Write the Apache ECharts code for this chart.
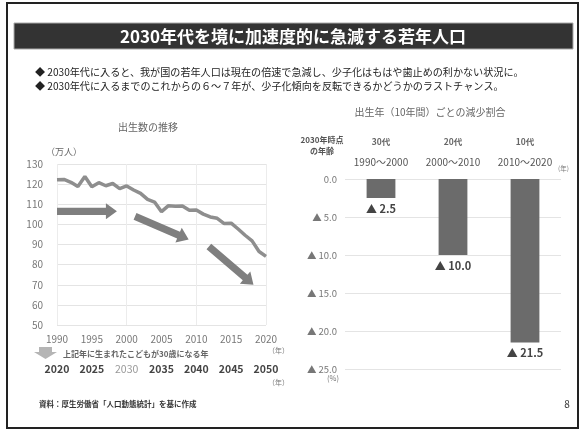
<!DOCTYPE html>
<html>
<head>
<meta charset="utf-8">
<script src="https://cdn.jsdelivr.net/npm/echarts@6/dist/echarts.min.js"></script>
<style>
  html, body { margin: 0; padding: 0; background: #fff; }
  #c { width: 585px; height: 431px; }
</style>
</head>
<body>
<div id="c"></div>
<script>
// 出生数（万人）
const birthYears = [1990, 1991, 1992, 1993, 1994, 1995, 1996, 1997, 1998, 1999, 2000,
                    2001, 2002, 2003, 2004, 2005, 2006, 2007, 2008, 2009, 2010,
                    2011, 2012, 2013, 2014, 2015, 2016, 2017, 2018, 2019, 2020];
const births = [122.2, 122.3, 120.9, 118.8, 123.8, 118.7, 120.7, 119.2, 120.3, 117.8, 119.1,
                117.1, 115.4, 112.4, 111.1, 106.3, 109.3, 109.0, 109.1, 107.0, 107.1,
                105.1, 103.7, 103.0, 100.4, 100.6, 97.7, 94.6, 91.8, 86.5, 84.1];

// 出生年（10年間）ごとの減少割合（％）
const periodAges = ['30代', '20代', '10代'];
const periodRanges = ['1990〜2000', '2000〜2010', '2010〜2020'];
const declineRates = [2.5, 10.0, 21.5];

// 30歳になる年の行で薄く表示する年
const fadedYear = 2030;

const FONT = '"Noto Sans CJK JP", "Noto Sans", sans-serif';
const chart = echarts.init(document.getElementById('c'), null, { renderer: 'canvas' });

chart.setOption({
  animation: false,
  textStyle: { fontFamily: FONT },
  grid: [
    { left: 57, top: 164, width: 209, height: 161 },
    { left: 345, top: 179, width: 216, height: 190 }
  ],
  xAxis: [
    {
      type: 'value', gridIndex: 0, min: 1990, max: 2020, interval: 5,
      axisLine: { show: false }, axisTick: { show: false }, splitLine: { show: false },
      axisLabel: { color: '#777', fontSize: 10, margin: 9, fontFamily: FONT, formatter: v => String(v) }
    },
    {
      type: 'value', gridIndex: 0, min: 2020, max: 2050, interval: 5,
      position: 'bottom', offset: 31,
      axisLine: { show: false }, axisTick: { show: false }, splitLine: { show: false },
      axisLabel: {
        margin: 8, fontFamily: FONT,
        formatter: v => (v === fadedYear ? '{f|' + v + '}' : '{b|' + v + '}'),
        rich: {
          b: { fontSize: 10.5, fontWeight: 'bold', color: '#444', fontFamily: FONT },
          f: { fontSize: 10.5, color: '#999', fontFamily: FONT }
        }
      }
    },
    {
      type: 'category', gridIndex: 1, data: periodAges, position: 'top',
      axisLine: { show: false }, axisTick: { show: false },
      axisLabel: {
        interval: 0, margin: 6, fontFamily: FONT,
        formatter: (v, i) => '{a|' + v + '}\n{r|' + periodRanges[i] + '}',
        rich: {
          a: { fontSize: 8.5, color: '#666', lineHeight: 21, fontWeight: 'bold', fontFamily: FONT },
          r: { fontSize: 10, color: '#555', lineHeight: 21, fontFamily: FONT }
        }
      }
    },
    {
      // 10年ごとの縦の補助線
      type: 'value', gridIndex: 0, min: 1990, max: 2020, interval: 10,
      axisLine: { show: false }, axisTick: { show: false }, axisLabel: { show: false },
      splitLine: { show: true, lineStyle: { color: '#ececec' } }
    }
  ],
  yAxis: [
    {
      type: 'value', gridIndex: 0, min: 50, max: 130, interval: 10,
      axisLine: { show: false }, axisTick: { show: false },
      splitLine: { lineStyle: { color: '#e4e4e4' } },
      axisLabel: { color: '#777', fontSize: 10, margin: 14, fontFamily: FONT }
    },
    {
      type: 'value', gridIndex: 1, min: 0, max: 25, interval: 5, inverse: true,
      axisLine: { show: false }, axisTick: { show: false },
      splitLine: { lineStyle: { color: '#e4e4e4' } },
      axisLabel: {
        color: '#777', fontSize: 9.5, margin: 8, fontFamily: FONT,
        formatter: v => (v === 0 ? '0.0' : '▲ ' + v.toFixed(1))
      }
    }
  ],
  series: [
    {
      type: 'line', xAxisIndex: 0, yAxisIndex: 0,
      data: birthYears.map((y, i) => [y, births[i]]),
      showSymbol: false,
      lineStyle: { color: '#8e8e8e', width: 3.5 },
      z: 3
    },
    {
      type: 'bar', xAxisIndex: 2, yAxisIndex: 1,
      data: declineRates,
      barWidth: '40%',
      itemStyle: { color: '#6b6b6b' },
      label: {
        show: true, position: 'bottom', distance: 5,
        formatter: p => '▲ ' + p.value.toFixed(1),
        fontSize: 11, fontWeight: 'bold', color: '#444', fontFamily: FONT
      }
    }
  ]
});

// 減少の勢いを示す太矢印（データ座標で指定）
const trendArrows = [
  [[1990, 106.5], [1998.6, 106.5]],
  [[2001.2, 104], [2008.9, 92.5]],
  [[2011.8, 89], [2018.2, 70]]
];

function blockArrow(p0, p1, shaft, head, headLen) {
  const dx = p1[0] - p0[0], dy = p1[1] - p0[1];
  const len = Math.hypot(dx, dy);
  const ux = dx / len, uy = dy / len, nx = -uy, ny = ux;
  const bx = p1[0] - ux * headLen, by = p1[1] - uy * headLen;
  return [
    [p0[0] + nx * shaft, p0[1] + ny * shaft],
    [bx + nx * shaft, by + ny * shaft],
    [bx + nx * head, by + ny * head],
    [p1[0], p1[1]],
    [bx - nx * head, by - ny * head],
    [bx - nx * shaft, by - ny * shaft],
    [p0[0] - nx * shaft, p0[1] - ny * shaft]
  ];
}

const arrowShapes = trendArrows.map(([a, b]) => ({
  type: 'polygon',
  shape: {
    points: blockArrow(
      chart.convertToPixel({ gridIndex: 0 }, a),
      chart.convertToPixel({ gridIndex: 0 }, b),
      3.6, 8, 11)
  },
  style: { fill: '#7f7f7f' },
  z: 10
}));

const txt = (x, y, text, o = {}) => ({
  type: 'text', x, y, z: 20,
  style: Object.assign({
    text, fontFamily: FONT, fontSize: 10, fill: '#333',
    textAlign: 'left', textVerticalAlign: 'middle'
  }, o)
});

chart.setOption({
  graphic: [
    // 外枠
    { type: 'rect', shape: { x: 7, y: 3, width: 571, height: 425 },
      style: { fill: 'none', stroke: '#222', lineWidth: 2 }, z: 1 },
    // 見出し帯
    { type: 'rect', shape: { x: 14, y: 23, width: 559, height: 26 },
      style: { fill: '#333', stroke: '#aaa', lineWidth: 1 }, z: 2 },
    txt(293, 36.5, '2030年代を境に加速度的に急減する若年人口',
        { fill: '#fff', fontSize: 17, fontWeight: 'bold', textAlign: 'center' }),
    txt(35, 72, '◆ 2030年代に入ると、我が国の若年人口は現在の倍速で急減し、少子化はもはや歯止めの利かない状況に。',
        { fontSize: 10.1, fill: '#222' }),
    txt(35, 86, '◆ 2030年代に入るまでのこれからの６～７年が、少子化傾向を反転できるかどうかのラストチャンス。',
        { fontSize: 10.1, fill: '#222' }),

    // 左：出生数の推移
    txt(148, 127, '出生数の推移', { fontSize: 10, fill: '#666', textAlign: 'center' }),
    txt(46, 152, '（万人）', { fontSize: 9, fill: '#666' }),
    txt(268, 350, '（年）', { fontSize: 7, fill: '#777' }),
    txt(268, 382, '（年）', { fontSize: 7, fill: '#777' }),
    { type: 'polygon', z: 20,
      shape: { points: [[39, 347], [52, 347], [52, 352], [57, 352], [45.5, 359], [34, 352], [39, 352]] },
      style: { fill: '#b5b5b5' } },
    txt(63, 354, '上記年に生まれたこどもが30歳になる年', { fontSize: 8, fill: '#666', fontWeight: 'bold' }),

    // 右：減少割合
    txt(430, 112, '出生年（10年間）ごとの減少割合', { fontSize: 10, fill: '#666', textAlign: 'center' }),
    txt(322, 140, '2030年時点', { fontSize: 8, fill: '#555', fontWeight: 'bold', textAlign: 'center' }),
    txt(322, 151, 'の年齢', { fontSize: 8, fill: '#555', fontWeight: 'bold', textAlign: 'center' }),
    txt(558, 169, '(年)', { fontSize: 6.5, fill: '#777' }),
    txt(333, 378, '(%)', { fontSize: 7.5, fill: '#777', textAlign: 'center' }),

    // 出典・ページ番号
    txt(39, 404, '資料：厚生労働省「人口動態統計」を基に作成', { fontSize: 7.5, fill: '#333', fontWeight: 'bold' }),
    txt(567, 404, '8', { fontSize: 10, fill: '#333', textAlign: 'center' })
  ].concat(arrowShapes)
});
</script>
</body>
</html>
